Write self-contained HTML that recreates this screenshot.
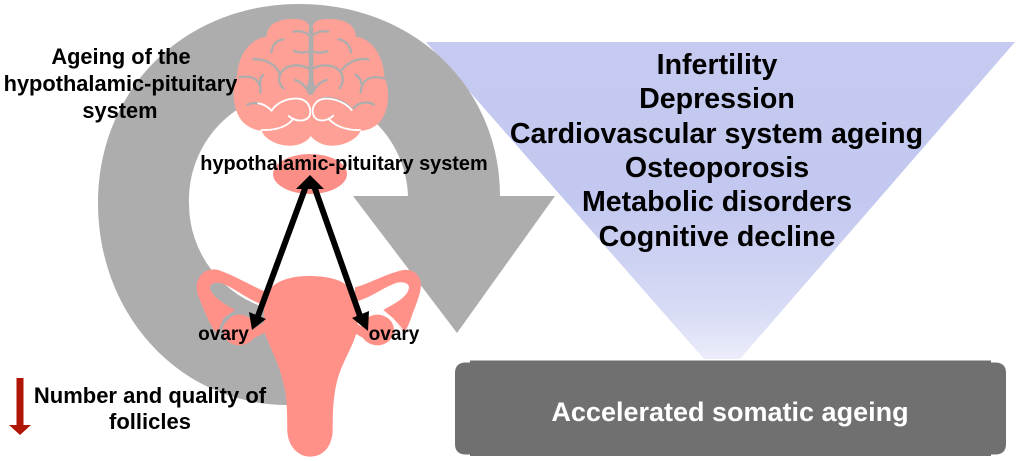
<!DOCTYPE html>
<html>
<head>
<meta charset="utf-8">
<style>
html,body{margin:0;padding:0;background:#fff;}
svg{display:block;}
text{font-family:"Liberation Sans",Arial,sans-serif;font-weight:bold;fill:#000;}
</style>
</head>
<body>
<svg width="1020" height="461" viewBox="0 0 1020 461" xmlns="http://www.w3.org/2000/svg">
<defs>
<linearGradient id="tri" x1="0" y1="0" x2="0" y2="1">
<stop offset="0" stop-color="#c6caf0"/>
<stop offset="0.5" stop-color="#c2c8ef"/>
<stop offset="0.85" stop-color="#d8dbf5"/>
<stop offset="1" stop-color="#ebedfb"/>
</linearGradient>
</defs>

<!-- triangle -->
<polygon points="426,42 1015,42 740,359 704,359" fill="url(#tri)"/>

<!-- box -->
<path d="M470,360.500 H991 V362.500 H995 Q1006,362.500 1006,373 V444 Q1006,454.500 995,454.500 H991 V456 H470 V454.500 H466 Q455,454.500 455,444 V373 Q455,362.500 466,362.500 H470 Z" fill="#707070"/>

<!-- circular arrow -->
<path d="M288,405 C180,405 98,315 98,203 C98,88 186,4 299,4 C415,4 500,88 500,196 L555,196 L457,333 L353,196 L408,196 A109.500,109 0 1 0 189,204 A109.500,109 0 0 0 270,309 Z" fill="#adadad"/>

<!-- brain -->
<g transform="translate(190,0) scale(0.3333)">
<path d="M362,285 C358,250 358,120 358,85 C358,65 340,57 310,57 C270,57 232,68 230,110 C185,115 145,160 142,225 C125,260 125,330 160,368 C180,385 200,392 215,392 C225,425 290,450 335,430 C350,424 358,415 362,408 C368,415 378,424 392,430 C435,450 500,425 512,392 C530,392 550,385 568,368 C600,330 600,265 583,232 C580,160 540,115 498,110 C495,68 455,57 415,57 C385,57 368,65 368,85 C368,120 368,250 362,285 Z" fill="#ffa096"/>
<g fill="none" stroke="#adadad" stroke-width="7" stroke-linecap="round">
<path d="M355,104 C340,92 325,92 310,95"/>
<path d="M355,155 C340,160 325,158 312,153"/>
<path d="M372,104 C385,92 400,92 415,95"/>
<path d="M372,155 C385,160 400,158 413,153"/>
<path d="M280,118 C262,120 246,135 244,157"/>
<path d="M445,118 C465,120 480,135 483,157"/>
<path d="M190,178 C225,175 262,195 270,225"/>
<path d="M535,178 C500,172 470,190 455,210"/>
<path d="M355,205 C320,188 275,195 268,232 C266,248 272,258 280,265"/>
<path d="M370,205 C405,188 450,195 458,232 C460,248 455,258 448,265"/>
<path d="M315,240 C335,245 350,262 358,280"/>
<path d="M410,240 C390,245 375,262 366,280"/>
<path d="M148,232 C185,225 212,235 212,278"/>
<path d="M220,225 C212,232 208,240 212,250"/>
<path d="M582,235 C545,225 515,235 512,278"/>
<path d="M497,225 C508,232 515,240 513,250"/>
<path d="M172,314 C185,308 200,308 212,312"/>
<path d="M552,314 C540,306 510,302 490,325"/>
<path d="M395,296 C420,290 460,300 482,325"/>
</g>
<polygon points="356,85 370,85 370,240 376,262 368,285 356,285 350,262 356,240" fill="#adadad"/>
<g fill="none" stroke="#fff" stroke-width="5.5" stroke-linecap="round">
<path d="M205,310 C222,312 235,322 245,332 C258,310 290,293 325,296 C350,298 365,320 360,345 C352,365 320,368 296,348"/>
<path d="M310,356 C295,378 260,392 215,390"/>
<path d="M485,330 C470,312 440,295 405,296 C380,297 362,320 370,345 C380,368 410,365 430,347"/>
<path d="M415,356 C435,378 470,392 510,390"/>
</g>
</g>

<!-- hypothalamic-pituitary gland -->
<ellipse cx="310" cy="174" rx="37" ry="20" fill="#fb8f88"/>

<!-- uterus and ovaries -->
<g transform="translate(180,250) scale(0.3333)" fill="#ff9189">
<path d="M255,125 C210,105 160,75 115,60 C85,52 55,70 50,105 C48,130 62,155 72,180 C85,210 95,235 112,250 L130,205 L165,180 C130,160 90,135 90,112 C92,98 110,95 130,102 C170,118 205,150 250,165 Z"/>
<path d="M525,112 C570,100 620,70 670,60 C700,56 722,75 723,105 C722,130 710,160 698,190 C690,215 682,235 672,250 L640,205 L610,180 C645,160 685,140 687,112 C686,97 665,93 645,100 C605,115 570,145 525,155 Z"/>
<ellipse cx="178" cy="240" rx="50" ry="46"/>
<ellipse cx="592" cy="240" rx="50" ry="46"/>
<path d="M205,245 L255,215 L255,248 L215,268 Z"/>
<path d="M530,220 L575,250 L560,270 L525,250 Z"/>
<path d="M385,78 C330,78 280,95 265,125 C250,155 248,215 255,250 C270,295 300,345 310,400 C320,430 322,480 322,545 C325,590 355,620 390,620 C430,620 455,590 458,545 C458,480 460,430 475,380 C490,330 525,280 532,235 C535,190 530,150 512,120 C495,90 445,78 385,78 Z"/>
<path d="M122,232 L165,186" fill="none" stroke="#adadad" stroke-width="3"/>
<path d="M610,192 C630,195 650,215 672,245" fill="none" stroke="#fff" stroke-width="3"/>
</g>

<!-- double arrows -->
<g stroke="#000" stroke-width="6" fill="none">
<line x1="306" y1="186" x2="258" y2="316"/>
<line x1="314" y1="186" x2="360" y2="316"/>
</g>
<polygon points="310,175 324,189 296,189" fill="#000"/>
<polygon points="252,330 249,312 266,319" fill="#000"/>
<polygon points="368,331 352,318 369,311" fill="#000"/>

<!-- labels -->
<text x="121" y="64" font-size="21.800" text-anchor="middle">Ageing of the</text>
<text x="120.500" y="91" font-size="21.800" text-anchor="middle">hypothalamic-pituitary</text>
<text x="120" y="118" font-size="21.800" text-anchor="middle">system</text>
<text x="344" y="170" font-size="19.900" text-anchor="middle">hypothalamic-pituitary system</text>
<text x="223.500" y="340" font-size="19" text-anchor="middle">ovary</text>
<text x="394" y="340" font-size="19" text-anchor="middle">ovary</text>
<text x="150" y="403" font-size="22" text-anchor="middle">Number and quality of</text>
<text x="150" y="429" font-size="22" text-anchor="middle">follicles</text>

<text x="717" y="74" font-size="28.600" text-anchor="middle">Infertility</text>
<text x="717" y="108" font-size="28.600" text-anchor="middle">Depression</text>
<text x="716.500" y="143" font-size="28.600" text-anchor="middle">Cardiovascular system ageing</text>
<text x="717" y="177" font-size="28.600" text-anchor="middle">Osteoporosis</text>
<text x="717" y="211" font-size="28.600" text-anchor="middle">Metabolic disorders</text>
<text x="717" y="246" font-size="28.600" text-anchor="middle">Cognitive decline</text>
<text x="730" y="421" font-size="27" text-anchor="middle" style="fill:#fff">Accelerated somatic ageing</text>

<!-- red arrow -->
<rect x="16.500" y="378" width="7" height="48" fill="#b01505"/>
<polygon points="9,425 31,425 20,435" fill="#b01505"/>
</svg>
</body>
</html>
